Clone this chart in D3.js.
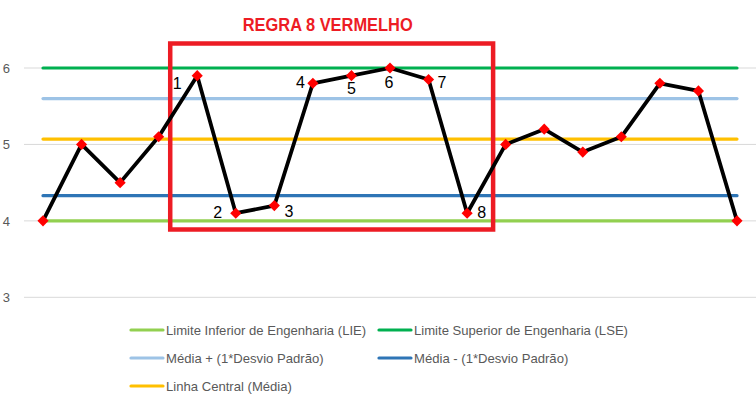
<!DOCTYPE html>
<html>
<head>
<meta charset="utf-8">
<script src="https://cdn.jsdelivr.net/npm/d3@7"></script>
<style>
  html, body { margin: 0; padding: 0; background: #fff; }
  svg { display: block; }
</style>
</head>
<body>
<svg id="chart" width="756" height="403"></svg>
<script>
// ---------- DATA ----------
const categories = [1,2,3,4,5,6,7,8,9,10,11,12,13,14,15,16,17,18,19];
const values = [4.0, 5.0, 4.5, 5.1, 5.9, 4.1, 4.2, 5.8, 5.9, 6.0, 5.85, 4.1, 5.0, 5.2, 4.9, 5.1, 5.8, 5.7, 4.0];
const lieValue = 4.0;      // Limite Inferior de Engenharia
const lseValue = 6.0;      // Limite Superior de Engenharia
const mediaPlus = 5.6;     // Média + 1 desvio
const mediaMinus = 4.33;   // Média - 1 desvio
const centralValue = 5.07; // Linha central
const yTicks = [3, 4, 5, 6];
const ruleLabels = ["1","2","3","4","5","6","7","8"];
const ruleStartIndex = 4; // category index of label "1"
const title = "REGRA 8 VERMELHO";
const legendNames = [
  "Limite Inferior de Engenharia (LIE)",
  "Limite Superior de Engenharia (LSE)",
  "Média + (1*Desvio Padrão)",
  "Média - (1*Desvio Padrão)",
  "Linha Central (Média)"
];

// ---------- LAYOUT / STYLE ----------
const colors = ["#92d050", "#00b050", "#9dc3e6", "#2e75b6", "#ffc000"];
const refValues = [lieValue, lseValue, mediaPlus, mediaMinus, centralValue];
const labelOffsets = [[-20,13],[-18,4.5],[14.5,11],[-12.5,4.7],[0,18.3],[-1,20],[13.5,9],[14.5,4.4]];
const font = "'Liberation Sans', Arial, sans-serif";

const svg = d3.select("#chart");
const x = d3.scalePoint().domain(categories).range([43, 737]);
const y = d3.scaleLinear().domain([3, 6]).range([297.3, 68]);

// gridlines
svg.append("g").selectAll("line").data(yTicks).join("line")
  .attr("x1", 24).attr("x2", 756)
  .attr("y1", d => y(d)).attr("y2", d => y(d))
  .attr("stroke", "#d9d9d9").attr("stroke-width", 1);

// y axis labels
const yAxis = d3.axisLeft(y).tickValues(yTicks).tickSize(0).tickPadding(0).tickFormat(d3.format("d"));
const ga = svg.append("g").attr("transform", "translate(10,0)").call(yAxis);
ga.select(".domain").remove();
ga.selectAll("text").attr("font-family", font).attr("font-size", 13).attr("fill", "#595959");

// reference lines
svg.append("g").selectAll("line").data(refValues).join("line")
  .attr("x1", x(categories[0])).attr("x2", x(categories[categories.length-1]))
  .attr("y1", d => y(d)).attr("y2", d => y(d))
  .attr("stroke", (d,i) => colors[i]).attr("stroke-width", 3.2)
  .attr("stroke-linecap", "round");

// red rule box
const x0 = x(categories[ruleStartIndex]), x1 = x(categories[ruleStartIndex + ruleLabels.length - 1]);
svg.append("rect")
  .attr("x", x0 - 27).attr("y", 43.5)
  .attr("width", (x1 + 26) - (x0 - 27)).attr("height", 186)
  .attr("fill", "none").attr("stroke", "#ed1c24").attr("stroke-width", 4.5);

// data line
const line = d3.line().x((d,i) => x(categories[i])).y(d => y(d));
svg.append("path").datum(values)
  .attr("d", line).attr("fill", "none")
  .attr("stroke", "#000").attr("stroke-width", 3.8).attr("stroke-linejoin", "round");

// markers
const sym = d3.symbol().type(d3.symbolSquare).size(62);
svg.append("g").selectAll("path").data(values).join("path")
  .attr("d", sym)
  .attr("transform", (d,i) => `translate(${x(categories[i])},${y(d)}) rotate(45)`)
  .attr("fill", "#ff0000");

// rule labels
svg.append("g").selectAll("text").data(ruleLabels).join("text")
  .attr("x", (d,i) => x(categories[ruleStartIndex + i]) + labelOffsets[i][0])
  .attr("y", (d,i) => y(values[ruleStartIndex + i]) + labelOffsets[i][1])
  .attr("text-anchor", "middle")
  .attr("font-family", font).attr("font-size", 16).attr("fill", "#000")
  .text(d => d);

// title
svg.append("text")
  .attr("x", 327.7).attr("y", 31)
  .attr("text-anchor", "middle")
  .attr("font-family", font).attr("font-weight", "bold").attr("font-size", 17.5)
  .attr("fill", "#ed1c24")
  .attr("textLength", 170).attr("lengthAdjust", "spacingAndGlyphs")
  .text(title);

// legend
const legendPos = [[130,330],[378,330],[130,358],[378,358],[130,386]];
const lg = svg.append("g").selectAll("g").data(legendNames).join("g")
  .attr("transform", (d,i) => `translate(${legendPos[i][0]},${legendPos[i][1]})`);
lg.append("line").attr("x1", 1).attr("x2", 33).attr("y1", 0).attr("y2", 0)
  .attr("stroke", (d,i) => colors[i]).attr("stroke-width", 3.2).attr("stroke-linecap", "round");
lg.append("text").attr("x", 36).attr("y", 0).attr("dy", "0.35em")
  .attr("font-family", font).attr("font-size", 13.1).attr("fill", "#595959")
  .text(d => d);
</script>
</body>
</html>
